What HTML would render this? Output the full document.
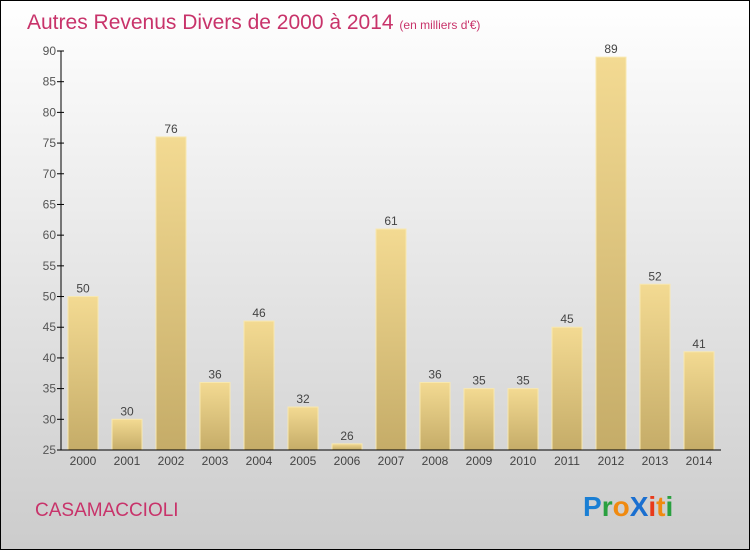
<!DOCTYPE html>
<html><head><meta charset="utf-8"><style>
html,body{margin:0;padding:0}
body{width:750px;height:550px;overflow:hidden;font-family:"Liberation Sans",sans-serif}
</style></head><body>
<svg id="chart" width="750" height="550" xmlns="http://www.w3.org/2000/svg">
<defs>
<linearGradient id="bg" x1="0" y1="0" x2="0" y2="1"><stop offset="0" stop-color="#ffffff"/><stop offset="1" stop-color="#cccccc"/></linearGradient>
<linearGradient id="bar" x1="0" y1="0" x2="0" y2="1"><stop offset="0" stop-color="#f3da92"/><stop offset="1" stop-color="#c5ac68"/></linearGradient>
</defs>
<rect x="0.5" y="0.5" width="749" height="549" fill="url(#bg)" stroke="#000"/>
<text x="27" y="29" font-size="21" fill="#c8336a">Autres Revenus Divers de 2000 à 2014 <tspan font-size="12">(en milliers d'€)</tspan></text>
<g id="plot"></g>
<text x="35" y="516" font-size="19" fill="#c8336a">CASAMACCIOLI</text>
<g font-size="28" font-weight="bold" font-family="'Liberation Sans',sans-serif">
<text x="583" y="516"><tspan fill="#1a7fd4">P</tspan><tspan fill="#2aa040">r</tspan><tspan fill="#f08a10">o</tspan><tspan fill="#1a6fd0">X</tspan><tspan fill="#e83a1a">i</tspan><tspan fill="#f08a10">t</tspan><tspan fill="#2aa040">i</tspan></text>
</g>
</svg>
<script>
const categories=["2000","2001","2002","2003","2004","2005","2006","2007","2008","2009","2010","2011","2012","2013","2014"];
const values=[50,30,76,36,46,32,26,61,36,35,35,45,89,52,41];
const yTicks=[25,30,35,40,45,50,55,60,65,70,75,80,85,90];
const NS="http://www.w3.org/2000/svg";
const plotG=document.getElementById('plot');
const yMin=25,yMax=90,plotTop=51,plotBot=450,plotLeft=61,plotRight=721;
const yS=v=>plotBot-(v-yMin)/(yMax-yMin)*(plotBot-plotTop);
const step=(plotRight-plotLeft)/categories.length;
const xS=i=>plotLeft+step*(i+0.5);
function mk(t,a){const e=document.createElementNS(NS,t);for(const k in a)e.setAttribute(k,a[k]);plotG.appendChild(e);return e;}
values.forEach((v,i)=>{
  const r=mk('rect',{x:xS(i)-15,y:yS(v),width:30,height:plotBot-yS(v),fill:'url(#bar)',stroke:'#f8e8b0','stroke-width':1});
  
  
  const t=mk('text',{x:xS(i),y:yS(v)-4,'text-anchor':'middle','font-size':12,fill:'#444'});
  t.textContent=v;
  
  
  const c=mk('text',{x:xS(i),y:plotBot+15,'text-anchor':'middle','font-size':12,fill:'#444'});
  c.textContent=categories[i];
  
  
});
yTicks.forEach(v=>{
  const l=mk('line',{x1:plotLeft-4,x2:plotLeft+3,y1:yS(v),y2:yS(v),stroke:'#000'});
  
  
  const t=mk('text',{x:plotLeft-5,y:yS(v)+4,'text-anchor':'end','font-size':12,fill:'#555'});
  t.textContent=v;
  
  
});
const ya=mk('line',{x1:plotLeft,x2:plotLeft,y1:plotTop,y2:plotBot,stroke:'#000'});


const xa=mk('line',{x1:plotLeft,x2:plotRight,y1:plotBot,y2:plotBot,stroke:'#000'});


</script>
</body></html>
